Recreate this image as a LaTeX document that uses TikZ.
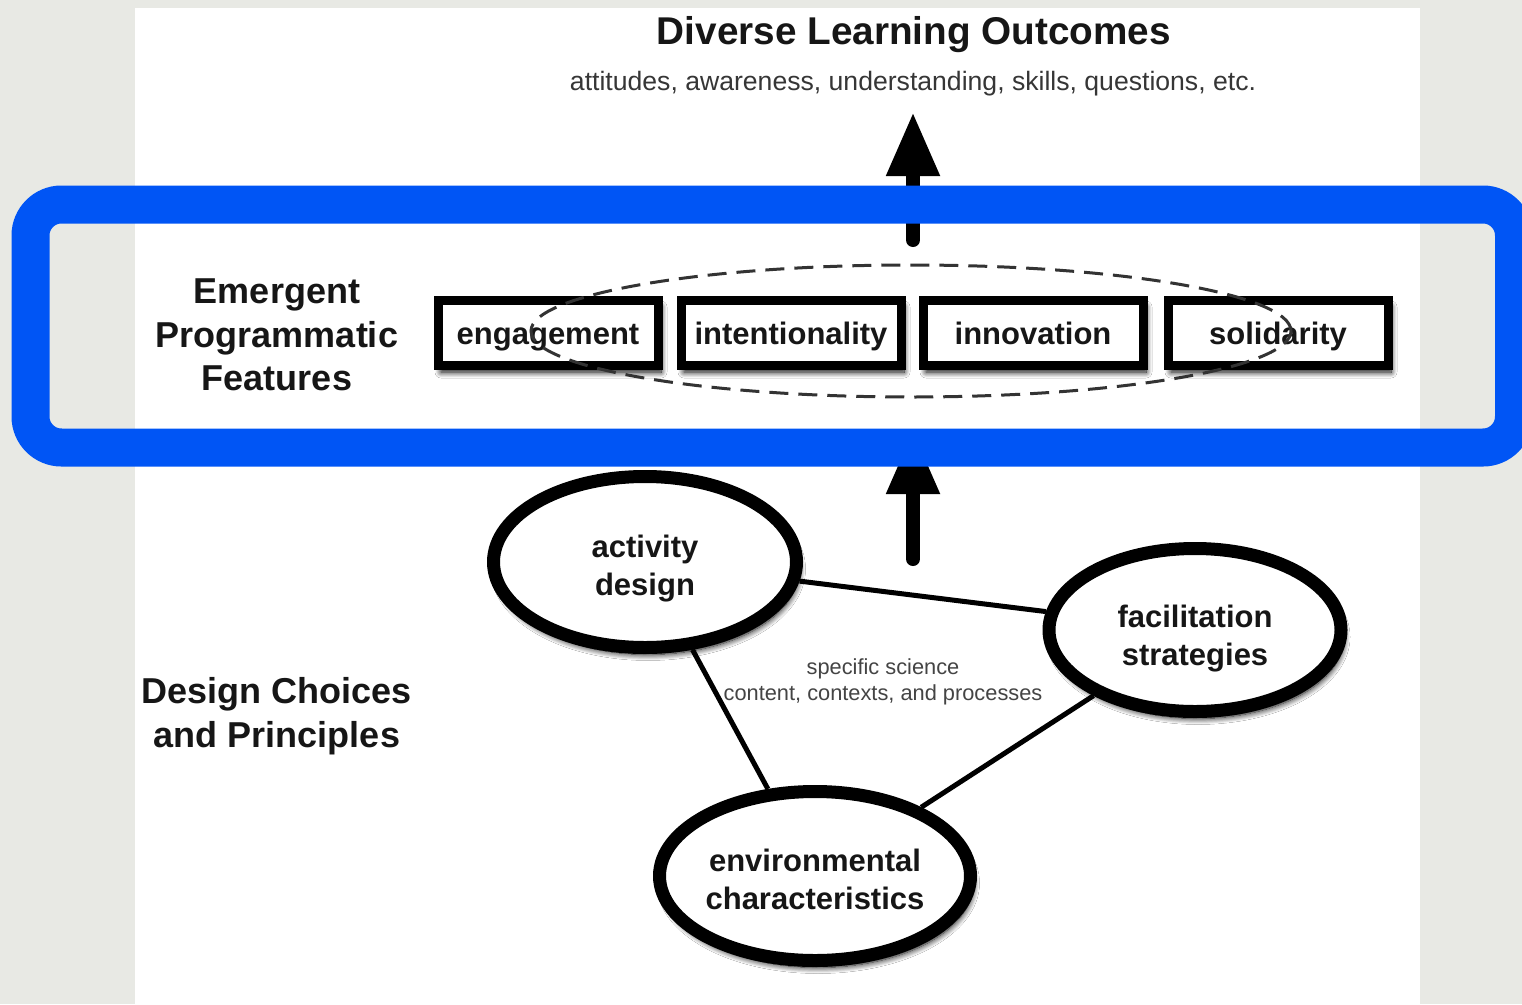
\documentclass[tikz,border=0pt]{standalone}
\usepackage{fontspec}
\setmainfont{Liberation Sans}
\usetikzlibrary{arrows.meta,shapes.geometric,shadows.blur}
\definecolor{bgc}{HTML}{E8E9E4}
\definecolor{bluec}{HTML}{0055F5}
\definecolor{txt}{HTML}{161616}
\definecolor{dashc}{HTML}{333333}
\definecolor{smallc}{HTML}{444444}
\begin{document}
\begin{tikzpicture}[x=1pt,y=-1pt,
  softshadow/.style={blur shadow={shadow xshift=3pt,shadow yshift=-7pt,shadow blur radius=6pt,shadow blur steps=12,shadow opacity=100}},
  titlest/.style={text=txt,font=\bfseries\fontsize{38.7}{44}\selectfont,inner sep=0pt},
  subst/.style={text=smallc!80!black,font=\fontsize{26.6}{30}\selectfont,inner sep=0pt},
  sidelabel/.style={text=txt,align=center,font=\bfseries\fontsize{36}{43.5}\selectfont,inner sep=0pt},
  featbox/.style={draw=black,line width=9pt,fill=white,minimum width=220pt,minimum height=65pt,inner sep=0pt,text height=30pt,text depth=6pt,text=txt,font=\bfseries\fontsize{31}{36}\selectfont,softshadow},
  dashell/.style={ellipse,draw=dashc,line width=3pt,dash pattern=on 19pt off 10pt,minimum width=760pt,minimum height=132pt,inner sep=0pt},
  designell/.style={ellipse,draw=black,line width=13pt,fill=white,inner sep=0pt,softshadow},
  elltext/.style={align=center,text=txt,inner sep=0pt,font=\bfseries\fontsize{31}{38}\selectfont},
  conn/.style={line width=5pt,draw=black},
  bigarrow/.style={line width=14pt,line cap=round,-{Triangle[width=50pt,length=64pt]}},
  smalllabel/.style={text=smallc,align=center,font=\fontsize{21.8}{26}\selectfont,inner sep=0pt}
]
\clip (0,0) rectangle (1522,1004);
\fill[bgc] (0,0) rectangle (1522,1004);
\fill[white] (135,8) rectangle (1420,1004);

% outcomes
\node[titlest] (outcomes) at (914,35) {Diverse Learning Outcomes};
\node[subst] (outsub) at (913,84) {attitudes, awareness, understanding, skills, questions, etc.};

% arrows
\coordinate (uptail) at (913,240);
\coordinate (uptip) at (913,112);
\coordinate (lowtail) at (913,559);
\coordinate (lowtip) at (913,430);
\draw[bigarrow] (uptail) -- (uptip);
\draw[bigarrow] (lowtail) -- (lowtip);

% blue frame
\draw[bluec,line width=38pt,rounded corners=31pt] (30.5,204.5) rectangle (1514,447.5);

% emergent features
\node[sidelabel] (emlabel) at (277,335) {Emergent\\Programmatic\\Features};
\node[featbox] (eng) at (548,332.5) {engagement};
\node[featbox] (int) at (791,332.5) {intentionality};
\node[featbox] (inn) at (1033,332.5) {innovation};
\node[featbox] (sol) at (1278,332.5) {solidarity};
\node[dashell] (featring) at (911,331) {};

% design choices
\node[sidelabel] (dclabel) at (277,716) {Design Choices\\and Principles};
\node[designell,minimum width=303pt,minimum height=171pt,
  label={[elltext,yshift=-7pt]center:{activity\\design}}] (act) at (645,562) {};
\node[designell,minimum width=292pt,minimum height=163pt,
  label={[elltext,yshift=-9pt]center:{facilitation\\strategies}}] (fac) at (1195,630) {};
\node[designell,minimum width=311pt,minimum height=169pt,
  label={[elltext,yshift=-3pt]center:{environmental\\characteristics}}] (env) at (815,876) {};
\draw[conn] (act) -- (fac);
\draw[conn] (act) -- (env);
\draw[conn] (fac) -- (env);
\node[smalllabel] (scilabel) at (883,682) {specific science\\content, contexts, and processes};
\end{tikzpicture}
\end{document}
